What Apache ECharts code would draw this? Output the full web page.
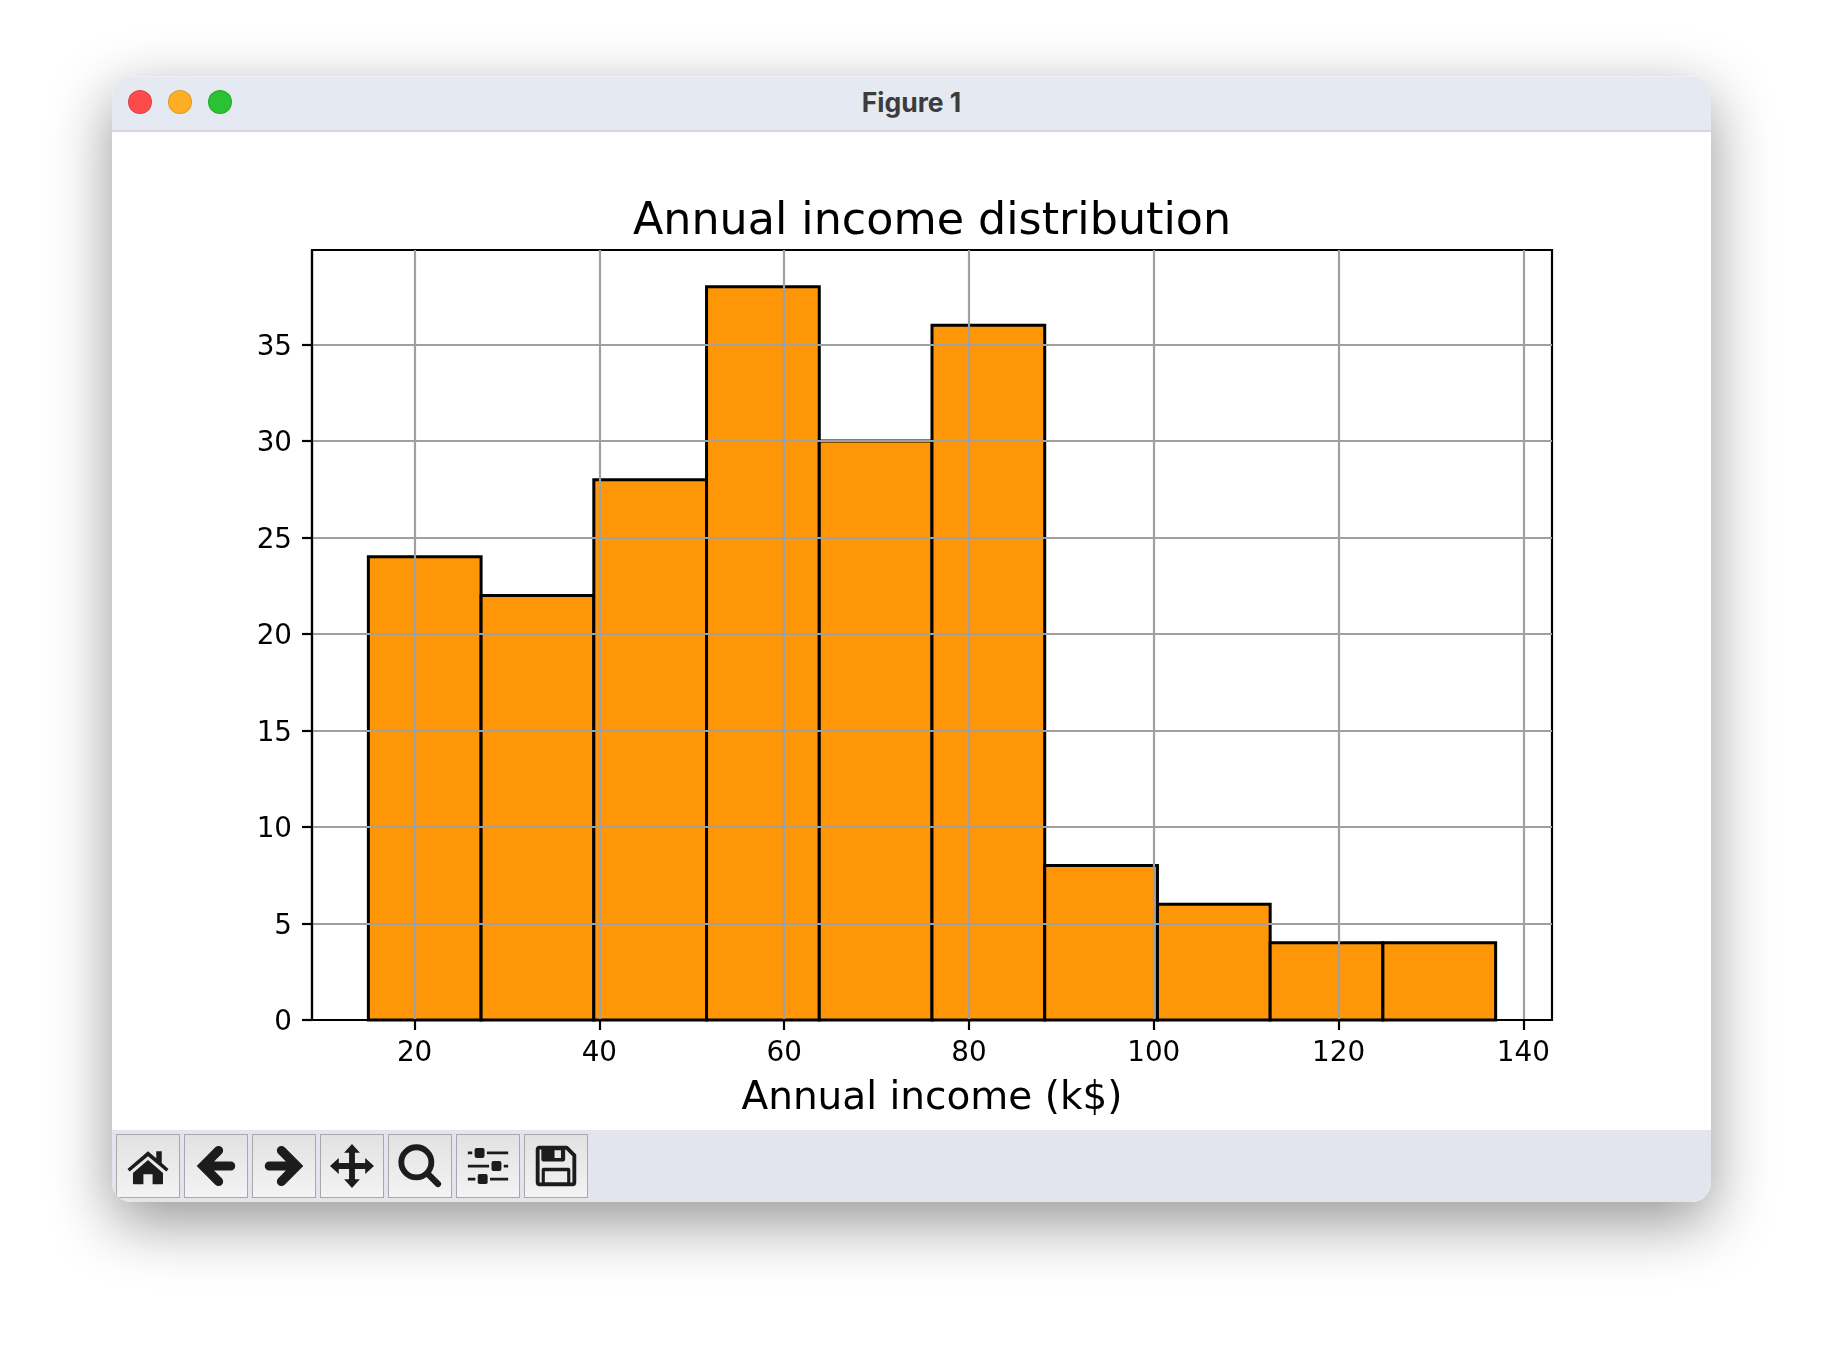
<!DOCTYPE html>
<html>
<head>
<meta charset="utf-8">
<title>Annual income distribution</title>
<script src="https://cdn.jsdelivr.net/npm/echarts@6/dist/echarts.min.js"></script>
<style>
html, body { margin: 0; padding: 0; background: #fff; }
#page { position: relative; width: 1824px; height: 1352px; overflow: hidden; }
#win {
  position: absolute; left: 112px; top: 76px; width: 1599px; height: 1126px;
  border-radius: 20px; background: #fff; overflow: hidden;
}
#shadow {
  position: absolute; left: 112px; top: 76px; width: 1599px; height: 1126px; border-radius: 20px;
  box-shadow: 0 20px 62px rgba(0,0,0,.42);
}
#titlebar {
  position: absolute; left: 0; top: 0; right: 0; height: 53px; background: #e5e9f1;
  border-bottom: 2px solid #d6d7da; border-top: 1px solid #eef0f5; box-sizing: content-box;
  font: bold 26.5px Inter, "Noto Sans", sans-serif; color: #3c3c3c; text-align: center; line-height: 50px;
}
.dot { position: absolute; top: 13px; width: 24px; height: 24px; border-radius: 50%; box-sizing: border-box; border: 1px solid rgba(0,0,0,.12); }
#toolbar { position: absolute; left: 0; right: 0; bottom: 0; height: 72px; background: #e2e5ed; }
.btn {
  position: absolute; top: 4px; width: 64px; height: 64px; box-sizing: border-box;
  border: 1.5px solid #a9a9a9; background: linear-gradient(#e2e2e2, #f3f3f3);
}
.btn svg { position: absolute; left: 8.5px; top: 8.5px; width: 44px; height: 44px; fill: #1c1c1c; stroke: none; }
.btn svg .s { fill: none; stroke: #1c1c1c; }
#chart { position: absolute; left: 0; top: 0; width: 1824px; height: 1352px; }
</style>
</head>
<body>
<div id="page">
  <div id="shadow"></div>
  <div id="win">
    <div id="titlebar">Figure 1
      <span class="dot" style="left:16px;background:#fd4a4b"></span>
      <span class="dot" style="left:56px;background:#feae24"></span>
      <span class="dot" style="left:96px;background:#2ac133"></span>
    </div>
    <div id="toolbar">
      <div class="btn" style="left:4px"><svg viewBox="0 0 24 24"><path d="M.8 13.600 12 4l4.500 3.800V4h3v6.400l3.700 3.200-1.200 1.400L12 6.700 2 15z"/><path d="M3.800 15.800 12 8.700l8.200 7.100V21.300q0 .7-.7 .7H14.500V16.500h-5V22H4.500q-.7 0-.7-.7z"/></svg></div>
      <div class="btn" style="left:72px"><svg viewBox="0 0 24 24"><path class="s" stroke-width="5" stroke-linecap="round" d="M13.400 3.600 5 12l8.400 8.400M5 12H20"/></svg></div>
      <div class="btn" style="left:140px"><svg viewBox="0 0 24 24"><path class="s" stroke-width="5" stroke-linecap="round" d="M10.600 3.600 19 12l-8.400 8.400M19 12H4"/></svg></div>
      <div class="btn" style="left:208px"><svg viewBox="0 0 24 24"><path d="M12 0 16.300 4.800H13.600V10.400H19.200V7.700L24 12l-4.800 4.300V13.600H13.600V19.200H16.300L12 24l-4.300-4.800H10.400V13.600H4.800V16.300L0 12l4.800-4.300V10.400H10.400V4.800H7.700z"/></svg></div>
      <div class="btn" style="left:276px"><svg viewBox="0 0 24 24"><circle class="s" stroke-width="3.200" cx="10" cy="10" r="8.200"/><path class="s" stroke-width="3.400" stroke-linecap="round" d="M16.200 16.200 21.800 21.800"/></svg></div>
      <div class="btn" style="left:344px"><svg viewBox="0 0 24 24"><path class="s" stroke-width="1.500" d="M1 4.900H3.400M11.400 4.900H23M1 12H12.600M20.600 12H23M1 19.100H5.100M13.100 19.100H23"/><rect x="4.700" y="2.200" width="5.400" height="5.400" rx="1"/><rect x="13.900" y="9.300" width="5.400" height="5.400" rx="1"/><rect x="6.400" y="16.400" width="5.400" height="5.400" rx="1"/></svg></div>
      <div class="btn" style="left:412px"><svg viewBox="0 0 24 24"><path class="s" stroke-width="2.100" stroke-linejoin="round" d="M3 2H17.800L22 6.200V21q0 1-1 1H3q-1 0-1-1V3q0-1 1-1z"/><path fill-rule="evenodd" d="M4 2H17V8.500q0 1-1 1H5q-1 0-1-1zM11.200 3.400V7.600H14.700V3.400z"/><path fill-rule="evenodd" d="M4.200 14q0-1 1-1H18.800q1 0 1 1V22H4.200zM5.900 14.800V21H18.100V14.800z"/></svg></div>
    </div>
  </div>
  <div id="chart"></div>
</div>
<script>
// 直方图数据
const binStarts = [15, 27.2, 39.4, 51.6, 63.8, 76, 88.2, 100.4, 112.6, 124.8];
const binEnds = [27.2, 39.4, 51.6, 63.8, 76, 88.2, 100.4, 112.6, 124.8, 137];
const counts = [24, 22, 28, 38, 30, 36, 8, 6, 4, 4];
const xTicks = [20, 40, 60, 80, 100, 120, 140];
const yTicks = [0, 5, 10, 15, 20, 25, 30, 35];
const titleText = 'Annual income distribution';
const xLabelText = 'Annual income (k$)';

const chart = echarts.init(document.getElementById('chart'), null, { renderer: 'canvas' });

const font = 'DejaVu Sans';
const gridColor = '#a0a0a0';

const option = {
  animation: false,
  backgroundColor: 'transparent',
  title: {
    text: titleText,
    left: 932,
    top: 200,
    padding: 0,
    textAlign: 'center',
    textStyle: { fontFamily: font, fontSize: 44.400, fontWeight: 'normal', color: '#000' }
  },
  grid: {
    left: 312, top: 250, width: 1240, height: 770,
    show: true, borderColor: '#000', borderWidth: 2.2, backgroundColor: 'transparent'
  },
  xAxis: {
    type: 'value',
    min: 8.9,
    max: 143.1,
    interval: 20,
    z: 3,
    name: xLabelText,
    nameLocation: 'middle',
    nameGap: 59,
    nameTextStyle: { fontFamily: font, fontSize: 39, color: '#000' },
    axisLine: { show: true, onZero: false, lineStyle: { color: '#000', width: 2.2 } },
    axisTick: { show: true, length: 10, customValues: xTicks, lineStyle: { color: '#000', width: 2.2 } },
    axisLabel: { show: true, margin: 20, customValues: xTicks, fontFamily: font, fontSize: 27.800, color: '#000' },
    splitLine: { show: true, showMinLine: true, showMaxLine: true, lineStyle: { color: gridColor, width: 2.2 } }
  },
  yAxis: {
    type: 'value',
    min: 0,
    max: 39.9,
    interval: 5,
    z: 3,
    axisLine: { show: true, onZero: false, lineStyle: { color: '#000', width: 2.2 } },
    axisTick: { show: true, length: 10, customValues: yTicks, lineStyle: { color: '#000', width: 2.2 } },
    axisLabel: {
      show: true, margin: 20, customValues: yTicks,
      formatter: '{a|{value}}',
      rich: { a: { fontFamily: font, fontSize: 27.800, color: '#000', padding: [6, 0, 0, 0] } }
    },
    splitLine: { show: true, showMinLine: false, showMaxLine: true, lineStyle: { color: gridColor, width: 2.2 } }
  },
  series: [{
    type: 'custom',
    z: 2,
    encode: { x: [0, 1], y: 2 },
    renderItem: function (params, api) {
      const p0 = api.coord([api.value(0), 0]);
      const p1 = api.coord([api.value(1), api.value(2)]);
      return {
        type: 'rect',
        shape: { x: p0[0], y: p1[1], width: p1[0] - p0[0], height: p0[1] - p1[1] },
        style: { fill: '#ff9607', stroke: '#000', lineWidth: 3 }
      };
    },
    data: counts.map((c, i) => [binStarts[i], binEnds[i], c])
  }]
};

chart.setOption(option);
</script>
</body>
</html>
